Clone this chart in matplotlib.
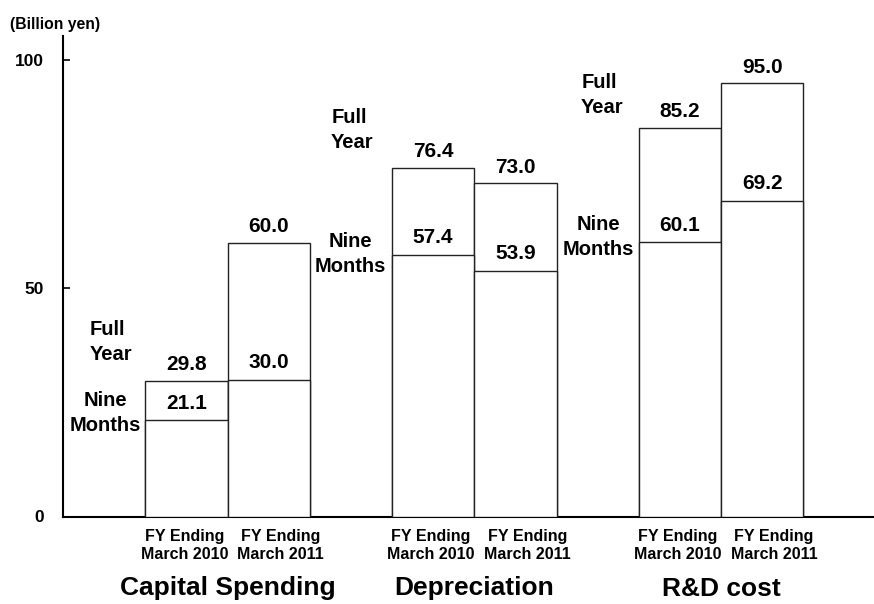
import matplotlib.pyplot as plt

plt.rcParams['font.family'] = ['Liberation Sans', 'DejaVu Sans']
plt.rcParams['font.weight'] = 'bold'

# Data (billion yen)
groups = ['Capital Spending', 'Depreciation', 'R&D cost']
periods = ['FY Ending\nMarch 2010', 'FY Ending\nMarch 2011']
full_year = [29.8, 60.0, 76.4, 73.0, 85.2, 95.0]
nine_months = [21.1, 30.0, 57.4, 53.9, 60.1, 69.2]

# Layout
group_gap = 3.0
bar_w = 1.0
xs = []
for g in range(len(groups)):
    xs += [g * group_gap - bar_w / 2, g * group_gap + bar_w / 2]

fig = plt.figure(figsize=(8.74, 6.04), dpi=100)
ax = fig.add_axes([63 / 874, 87.5 / 604, 811 / 874, 480.5 / 604])

ax.bar(xs, full_year, width=bar_w, color='white', edgecolor='#222222', linewidth=1.0, zorder=2)
ax.bar(xs, nine_months, width=bar_w, color='white', edgecolor='#222222', linewidth=1.0, zorder=3)

for x, fy, nm in zip(xs, full_year, nine_months):
    ax.annotate(f'{fy:.1f}', xy=(x, fy), xytext=(0, 16), textcoords='offset pixels',
                ha='center', va='center', fontsize=15, fontweight='bold')
    ax.annotate(f'{nm:.1f}', xy=(x, nm), xytext=(0, 17), textcoords='offset pixels',
                ha='center', va='center', fontsize=15, fontweight='bold')

# "Full Year" / "Nine Months" side labels per group
full_pos = [(-1.68, 38.2), (1.26, 84.6), (4.30, 92.4)]
nine_pos = [(-1.49, 22.7), (1.49, 57.6), (4.51, 61.2)]
for (fx, fyv), (nx, nyv) in zip(full_pos, nine_pos):
    ax.text(fx, fyv, 'Full\nYear', ha='left', va='center', fontsize=14.5,
            fontweight='bold', linespacing=1.4)
    ax.text(nx, nyv, 'Nine\nMonths', ha='center', va='center', fontsize=14.5,
            fontweight='bold', linespacing=1.4, multialignment='center')

# period labels under each bar (second one sits a little to the right)
for i, x in enumerate(xs):
    shift = -2 if i % 2 == 0 else 12
    ax.annotate(periods[i % 2], xy=(x, 0), xycoords=('data', 'axes fraction'),
                xytext=(shift, -29), textcoords='offset pixels', ha='center', va='center',
                fontsize=11.5, fontweight='bold', linespacing=1.3)

# Group names under the axis
for g, name in enumerate(groups):
    ax.annotate(name, xy=(g * group_gap, 0), xycoords=('data', 'axes fraction'),
                xytext=(0, -72), textcoords='offset pixels', ha='center', va='center',
                fontsize=19, fontweight='bold')

ax.set_xticks([])

ax.set_yticks([0, 50, 100])
ax.set_yticklabels(['0', '50', '100'], fontsize=12.5, fontweight='bold')
ax.tick_params(axis='y', direction='in', length=5, width=1.2, pad=14)

ax.set_xlim(-2.0, 7.86)
ax.set_ylim(0, 105.3)

for s in ['top', 'right']:
    ax.spines[s].set_visible(False)
ax.spines['left'].set_linewidth(1.5)
ax.spines['bottom'].set_linewidth(1.5)

fig.text(10 / 874, 1 - 25 / 604, '(Billion yen)', ha='left', va='center',
         fontsize=11.3, fontweight='bold')

fig.savefig('out.png', dpi=100, facecolor='white')
